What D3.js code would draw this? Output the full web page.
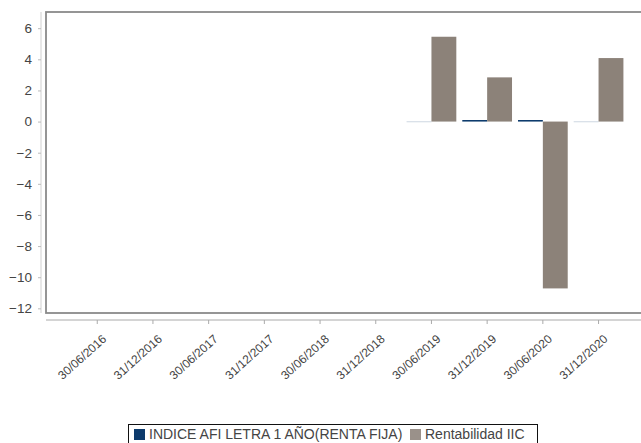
<!DOCTYPE html>
<html>
<head>
<meta charset="utf-8">
<script src="https://cdn.jsdelivr.net/npm/d3@7"></script>
<style>
  body { margin: 0; background: #fff; }
  svg text { font-family: "Liberation Sans", Arial, sans-serif; fill: #444; }
</style>
</head>
<body>
<svg id="chart" width="641" height="443"></svg>
<script>
// categories (semester ends)
var fechas = ["30/06/2016", "31/12/2016", "30/06/2017", "31/12/2017", "30/06/2018",
              "31/12/2018", "30/06/2019", "31/12/2019", "30/06/2020", "31/12/2020"];
// series values
var indiceAfi = [null, null, null, null, null, null, 0.01, 0.1, 0.1, 0.01];
var rentabilidad = [null, null, null, null, null, null, 5.45, 2.84, -10.72, 4.08];
var yTicks = [6, 4, 2, 0, -2, -4, -6, -8, -10, -12];
var seriesNames = ["INDICE AFI LETRA 1 AÑO(RENTA FIJA)", "Rentabilidad IIC"];
var seriesColors = ["#0c3a6c", "#8c8279"];

var svg = d3.select("#chart");

var frame = { left: 46, top: 12, right: 660, bottom: 313 };

var x = d3.scaleBand()
	.domain(fechas)
	.range([69.4, 626.4])
	.paddingInner(0)
	.paddingOuter(0);
var xSub = d3.scaleBand()
	.domain([0, 1])
	.range([0, x.bandwidth()])
	.paddingOuter(0.12)
	.paddingInner(0);
var y = d3.scaleLinear()
	.domain([-12.3, 7.04])
	.range([frame.bottom, frame.top]);

// plot frame
svg.append("rect")
	.attr("x", frame.left)
	.attr("y", frame.top)
	.attr("width", frame.right - frame.left)
	.attr("height", frame.bottom - frame.top)
	.attr("fill", "#fff")
	.attr("stroke", "#8a8a8a")
	.attr("stroke-width", 1.8);

// y axis, offset from the frame
var yAxis = svg.append("g")
	.attr("transform", "translate(41,0)")
	.call(d3.axisLeft(y).tickValues(yTicks).tickSize(3).tickPadding(6));
yAxis.select(".domain").attr("stroke", "#d0d0d0").attr("d", "M0," + frame.top + "V" + frame.bottom);
yAxis.selectAll(".tick line").attr("stroke", "#bbb");
yAxis.selectAll(".tick text").attr("font-size", 13.5).attr("fill", "#444");

// x axis, below the frame
var xAxis = svg.append("g")
	.attr("transform", "translate(0,320)")
	.call(d3.axisBottom(x).tickSize(4).tickPadding(4));
xAxis.select(".domain").attr("stroke", "#aaa").attr("d", "M" + frame.left + ",0H" + frame.right);
xAxis.selectAll(".tick line").attr("stroke", "#aaa");
xAxis.selectAll(".tick text")
	.attr("font-size", 12)
	.attr("fill", "#444")
	.attr("text-anchor", "end")
	.attr("y", 0)
	.attr("dy", 0)
	.attr("transform", "translate(10,20)rotate(-42)");

// bars
var rows = fechas.map(function(f, i) { return { fecha: f, vals: [indiceAfi[i], rentabilidad[i]] }; });
var groups = svg.append("g")
	.selectAll("g.grupo")
	.data(rows)
	.enter()
	.append("g")
	.attr("class", "grupo")
	.attr("transform", function(d) { return "translate(" + x(d.fecha) + ",0)"; });
groups.selectAll("rect")
	.data(function(d) { return d.vals.map(function(v, k) { return { k: k, v: v }; }).filter(function(e) { return e.v !== null; }); })
	.enter()
	.append("rect")
	.attr("x", function(d) { return xSub(d.k); })
	.attr("width", xSub.bandwidth())
	.attr("y", function(d) { return y(Math.max(0, d.v)); })
	.attr("height", function(d) { return Math.max(Math.abs(y(d.v) - y(0)), 0.8); })
	.attr("fill", function(d) { return seriesColors[d.k]; })
	.attr("fill-opacity", function(d) { return Math.abs(d.v) < 0.05 ? 0.25 : 1; });

// legend
var legend = svg.append("g").attr("transform", "translate(128,424)");
legend.append("rect")
	.attr("x", 0.5).attr("y", 0.5)
	.attr("width", 409).attr("height", 24)
	.attr("fill", "#fff")
	.attr("stroke", "#111")
	.attr("stroke-width", 1);
var legendX = [6, 282];
seriesNames.forEach(function(name, k) {
	legend.append("rect")
		.attr("x", legendX[k]).attr("y", 5)
		.attr("width", 11).attr("height", 11)
		.attr("fill", k === 0 ? "#0c3a6c" : "#9a918a");
	legend.append("text")
		.attr("x", legendX[k] + 15).attr("y", 15)
		.attr("font-size", 14)
		.attr("fill", "#333")
		.text(name);
});
</script>
</body>
</html>
